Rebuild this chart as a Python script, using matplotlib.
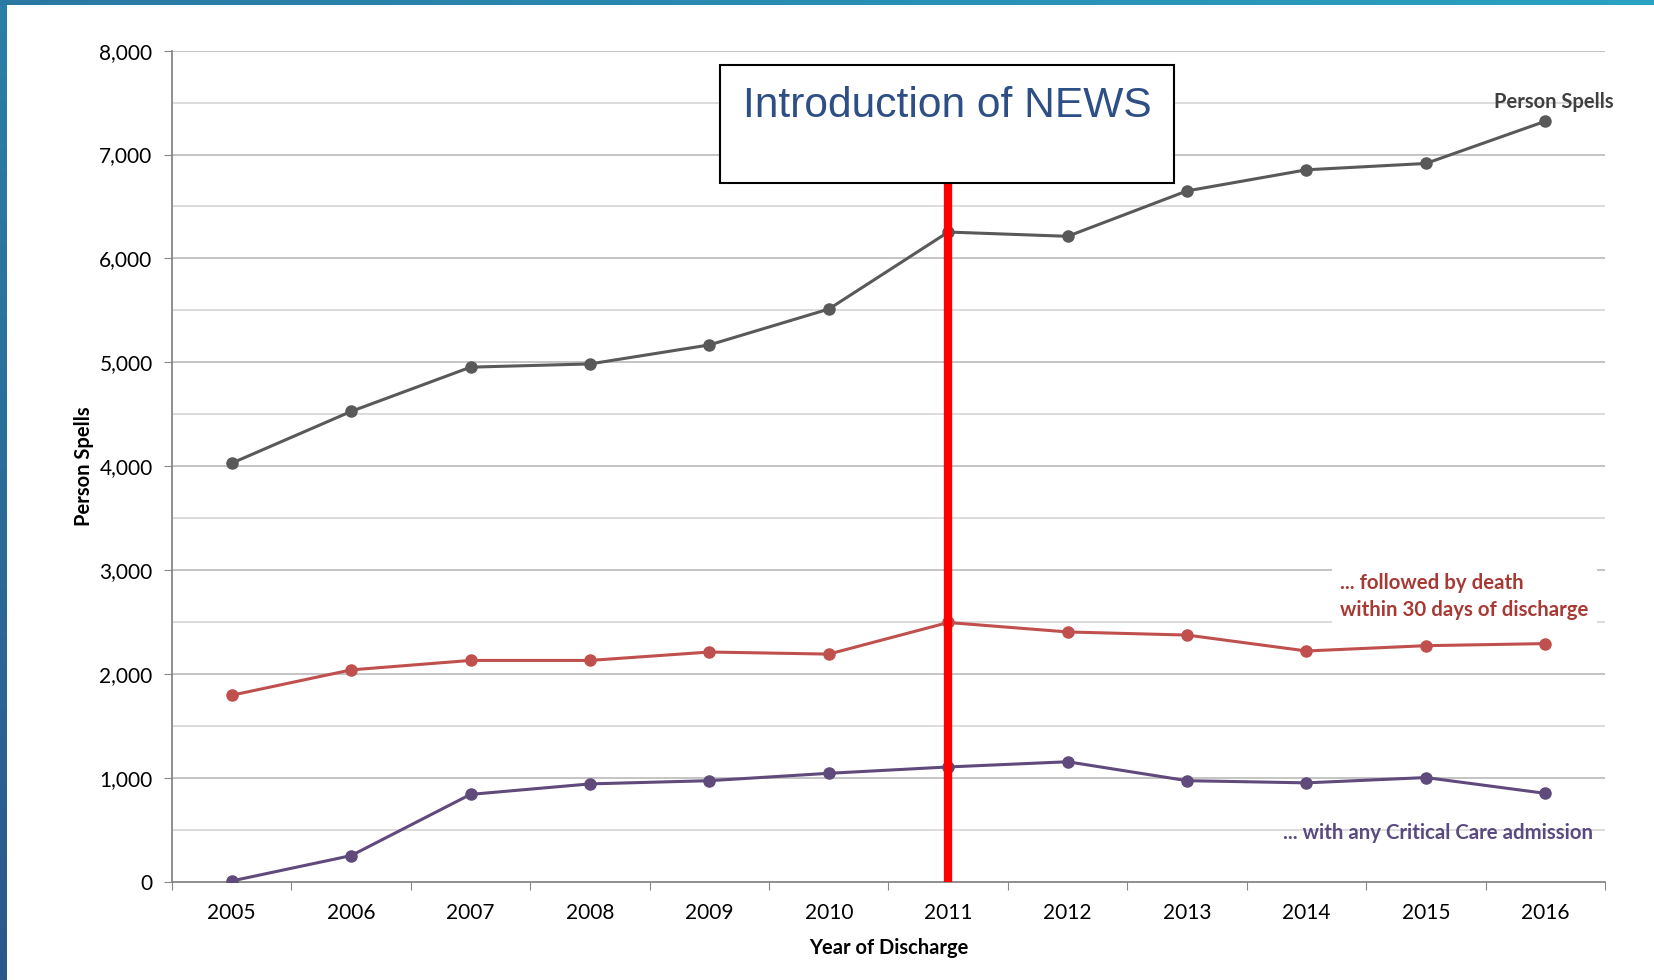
import matplotlib
matplotlib.use("Agg")
import matplotlib.pyplot as plt
import numpy as np
from matplotlib.patches import Rectangle

plt.rcParams['font.family'] = ['Lato', 'DejaVu Sans']

years = ["2005", "2006", "2007", "2008", "2009", "2010", "2011", "2012", "2013", "2014", "2015", "2016"]
person_spells = [4030, 4528, 4954, 4985, 5168, 5513, 6254, 6213, 6650, 6853, 6914, 7320]
followed_by_death = [1797, 2041, 2132, 2132, 2213, 2193, 2497, 2406, 2376, 2223, 2274, 2294]
critical_care = [10, 254, 843, 944, 975, 1046, 1107, 1157, 975, 954, 1005, 853]
news_year = "2011"

W, H = 1654, 980
fig = plt.figure(figsize=(W / 100, H / 100), dpi=100)
fig.patch.set_facecolor("white")

# decorative border strips
axl = fig.add_axes([0, 0, 7 / W, 1])
grad = np.linspace(0, 1, 256).reshape(-1, 1)
c_top = np.array([0x2a, 0x80, 0xa8]) / 255
c_bot = np.array([0x2c, 0x58, 0x8a]) / 255
img = c_top[None, None, :] * (1 - grad[:, :, None]) + c_bot[None, None, :] * grad[:, :, None]
axl.imshow(img, aspect="auto", extent=[0, 1, 0, 1])
axl.axis("off")
axt = fig.add_axes([0, 1 - 5 / H, 1, 5 / H])
gradh = np.linspace(0, 1, 256).reshape(1, -1)
c_l = np.array([0x2a, 0x78, 0xa4]) / 255
c_r = np.array([0x29, 0xa2, 0xc2]) / 255
imgh = c_l[None, None, :] * (1 - gradh[:, :, None]) + c_r[None, None, :] * gradh[:, :, None]
axt.imshow(imgh, aspect="auto", extent=[0, 1, 0, 1])
axt.axis("off")

left, right, top, bottom = 172, 1605, 50.6, 882
ax = fig.add_axes([left / W, (H - bottom) / H, (right - left) / W, (bottom - top) / H])

x = np.arange(len(years)) + 0.5
gray = "#595959"
red = "#c0504d"
purple = "#604a7b"

# grid
for v in range(500, 8001, 500):
    major = v % 1000 == 0
    ax.axhline(v, color="#bfbfbf" if major else "#d9d9d9", lw=1.3, zorder=0)

ax.plot(x, person_spells, color=gray, lw=2.2, marker="o", ms=8, zorder=3)
ax.plot(x, followed_by_death, color=red, lw=2.2, marker="o", ms=8, zorder=3)
ax.plot(x, critical_care, color=purple, lw=2.2, marker="o", ms=8, zorder=3)

xi = years.index(news_year) + 0.5
ax.plot([xi, xi], [0, 7000], color="#ff0000", lw=6, zorder=4, solid_capstyle="butt")

ax.set_xlim(0, len(years))
ax.set_ylim(0, 8000)
ax.set_yticks(range(0, 8001, 1000))
ax.set_yticklabels([f"{v:,}" for v in range(0, 8001, 1000)], fontsize=15)
ax.set_xticks(np.arange(0, len(years) + 1))
ax.set_xticklabels([])
ax.set_xticks(x, minor=True)
ax.set_xticklabels(years, minor=True, fontsize=15)
ax.tick_params(axis="x", which="major", length=6, color="#868686", direction="out")
ax.tick_params(axis="x", which="minor", length=0, pad=15)
ax.tick_params(axis="y", length=6, color="#868686", direction="out", pad=8)
for s in ["top", "right"]:
    ax.spines[s].set_visible(False)
for s in ["left", "bottom"]:
    ax.spines[s].set_color("#868686")
    ax.spines[s].set_linewidth(1.3)

ax.set_ylabel("Person Spells", fontsize=14.5, fontweight="bold", labelpad=4)
ax.set_xlabel("Year of Discharge", fontsize=14.5, fontweight="bold", labelpad=11)

# NEWS box (figure pixel coords)
bx0, bx1, by0, by1 = 720, 1174, 65, 183
fig.patches.append(Rectangle((bx0 / W, 1 - by1 / H), (bx1 - bx0) / W, (by1 - by0) / H,
                             transform=fig.transFigure, facecolor="white", edgecolor="black",
                             lw=1.5, zorder=10))
fig.text((bx0 + bx1) / 2 / W, 1 - 106 / H, "Introduction of NEWS", ha="center", va="center",
         fontsize=30.6, color="#2e4f86", family=["Liberation Sans", "DejaVu Sans"], zorder=11)

# series labels
ax.text(x[-1] + 0.07, person_spells[-1] + 185, "Person Spells", ha="center", va="center",
        fontsize=14.5, fontweight="bold", color="#404040")
ax.text(9.78, 2745, "... followed by death\nwithin 30 days of discharge", ha="left", va="center",
        fontsize=14.7, fontweight="bold", color="#a83a36", linespacing=1.45,
        bbox=dict(facecolor="white", edgecolor="none", pad=6))
ax.text(11.9, 467, "... with any Critical Care admission", ha="right", va="center",
        fontsize=14.7, fontweight="bold", color="#5a4a80")

fig.savefig("out.png", dpi=100)
